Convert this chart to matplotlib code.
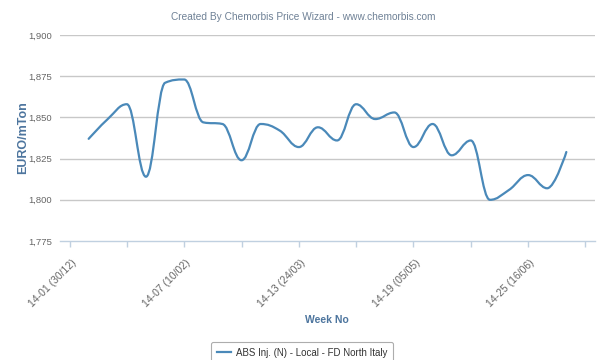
import numpy as np
import matplotlib
matplotlib.use('Agg')
import matplotlib.pyplot as plt
import matplotlib.transforms as mtrans
from matplotlib.path import Path
from matplotlib.patches import PathPatch
from matplotlib.lines import Line2D

plt.rcParams['font.family'] = ['Liberation Sans', 'DejaVu Sans']

# week numbers of 2014 (x = week index), values in EUR/ton
WEEKS = [2, 3, 4, 5, 6, 7, 8, 9, 10, 11, 12, 13, 14,
         15, 16, 17, 18, 19, 20, 21, 22, 23, 24, 25, 26, 27]
PRICES = [1837, 1849, 1858, 1814, 1871, 1873, 1847, 1846, 1824, 1846, 1842, 1832, 1844,
          1836, 1858, 1849, 1853, 1832, 1846, 1827, 1836, 1800, 1806, 1815, 1807, 1829]

LABEL_WEEKS = [1, 7, 13, 19, 25]
LABELS = ['14-01 (30/12)', '14-07 (10/02)', '14-13 (24/03)', '14-19 (05/05)', '14-25 (16/06)']
MINOR_WEEKS = [4, 10, 16, 22, 28]
Y_TICKS = [1775, 1800, 1825, 1850, 1875, 1900]

SERIES = 'ABS Inj. (N) - Local - FD North Italy'
LINE_C = '#4a89b9'
AXIS_C = '#4d759e'


def spline_path(xs, ys, smoothing=1.5):
    # highcharts style spline: bezier with control points around each point
    n = len(xs)
    lc = [(xs[i], ys[i]) for i in range(n)]
    rc = [(xs[i], ys[i]) for i in range(n)]
    den = smoothing + 1
    for i in range(1, n - 1):
        px, py = xs[i], ys[i]
        lx, ly = xs[i - 1], ys[i - 1]
        nx, ny = xs[i + 1], ys[i + 1]
        lcx = (smoothing * px + lx) / den
        lcy = (smoothing * py + ly) / den
        rcx = (smoothing * px + nx) / den
        rcy = (smoothing * py + ny) / den
        corr = (rcy - lcy) * (rcx - px) / (rcx - lcx) + py - rcy
        lcy += corr
        rcy += corr
        if lcy > ly and lcy > py:
            lcy = max(ly, py)
            rcy = 2 * py - lcy
        elif lcy < ly and lcy < py:
            lcy = min(ly, py)
            rcy = 2 * py - lcy
        if rcy > ny and rcy > py:
            rcy = max(ny, py)
            lcy = 2 * py - rcy
        elif rcy < ny and rcy < py:
            rcy = min(ny, py)
            lcy = 2 * py - rcy
        lc[i] = (lcx, lcy)
        rc[i] = (rcx, rcy)
    verts = [(xs[0], ys[0])]
    codes = [Path.MOVETO]
    for i in range(1, n):
        verts += [rc[i - 1], lc[i], (xs[i], ys[i])]
        codes += [Path.CURVE4] * 3
    return Path(verts, codes)


fig = plt.figure(figsize=(6.04, 3.6), dpi=100)
ax = fig.add_axes([60 / 604, 1 - 241 / 360, 535 / 604, 206 / 360])

ax.set_xlim(0.5, 28.5)
ax.set_ylim(1775, 1900)

for v in Y_TICKS[1:]:
    ax.axhline(v, color='#c8c8c8', lw=1, zorder=1)

patch = PathPatch(spline_path(WEEKS, PRICES), facecolor='none', edgecolor=LINE_C,
                  lw=1.6, zorder=3, capstyle='round', joinstyle='round')
ax.add_patch(patch)

for s in ['top', 'right', 'left']:
    ax.spines[s].set_visible(False)
ax.spines['bottom'].set_color('#c0d0e0')
ax.spines['bottom'].set_linewidth(1)

ax.set_yticks(Y_TICKS)
ax.set_yticklabels(['{:,}'.format(v) for v in Y_TICKS])
ax.tick_params(axis='y', length=0, pad=6, labelsize=6.8, labelcolor='#666666')

ax.set_xticks(LABEL_WEEKS)
ax.set_xticks(MINOR_WEEKS, minor=True)
ax.set_xticklabels(LABELS, rotation=45, ha='right', va='top', rotation_mode='anchor')
ax.tick_params(axis='x', which='both', length=4, width=1, color='#c0d0e0',
               direction='out')
ax.tick_params(axis='x', which='major', pad=8, labelsize=7.5, labelcolor='#666666')
off = mtrans.ScaledTranslation(1.5 / 100, 0, fig.dpi_scale_trans)
for lab in ax.get_xticklabels():
    lab.set_transform(lab.get_transform() + off)

fig.text(0.038, 1 - 138 / 360, 'EURO/mTon', rotation=90, ha='center', va='center',
         fontsize=9, fontweight='bold', color=AXIS_C)
fig.text(327 / 604, 1 - 320 / 360, 'Week No', ha='center', va='center',
         fontsize=7.5, fontweight='bold', color=AXIS_C)
fig.text(303 / 604, 1 - 17 / 360, 'Created By Chemorbis Price Wizard - www.chemorbis.com',
         ha='center', va='center', fontsize=7.3, color='#6f8196')

handle = Line2D([], [], color=LINE_C, lw=1.6)
leg = fig.legend([handle], [SERIES], loc='upper center',
                 bbox_to_anchor=(302 / 604, 1 - 337 / 360), fontsize=7,
                 frameon=True, fancybox=True, handlelength=1.4, handletextpad=0.5,
                 borderpad=0.6, labelcolor='#333333')
leg.get_frame().set_edgecolor('#999999')
leg.get_frame().set_linewidth(0.8)

fig.savefig('out.png', dpi=100)
